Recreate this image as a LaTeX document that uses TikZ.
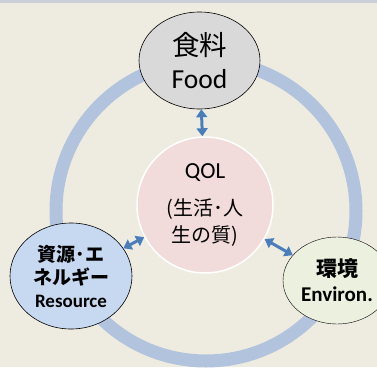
\documentclass[tikz,border=0pt]{standalone}
\usepackage{fontspec}
\setmainfont{Carlito}
\newfontfamily\jp{Noto Sans CJK JP}
\usetikzlibrary{arrows.meta,shapes.geometric}
\definecolor{bg}{HTML}{EEECE1}
\definecolor{topbar}{HTML}{C9D0D8}
\definecolor{ringc}{HTML}{B2C3DD}
\definecolor{foodc}{HTML}{D9D9D9}
\definecolor{qolc}{HTML}{F2DCDB}
\definecolor{resc}{HTML}{C6D9F1}
\definecolor{envc}{HTML}{EBF1DE}
\definecolor{arrc}{HTML}{4A7EBB}
\tikzset{
  oval/.style={ellipse, draw=black, line width=0.6pt, inner sep=0pt, align=center},
  biarrow/.style={arrc, line width=3pt, {Triangle[length=8pt,width=11pt]}-{Triangle[length=8pt,width=11pt]}}
}
\begin{document}
\begin{tikzpicture}[x=1pt,y=-1pt]
\useasboundingbox (0,0) rectangle (377,367);
\fill[bg] (0,0) rectangle (377,367);
\fill[topbar] (0,0) rectangle (377,3);
\draw[ringc, line width=13pt] (206,211) circle[radius=150pt];
\node[oval, fill=foodc, minimum width=121pt, minimum height=97pt, font=\fontsize{27.5}{33}\selectfont] (food) at (199.5,60.5)
  {{\jp 食料}\\Food};
\node[circle, fill=qolc, draw=white, line width=1.5pt, minimum size=136pt, inner sep=0pt, align=center, font=\fontsize{20}{27}\selectfont] (qol) at (205,205)
  {{\fontsize{23}{27}\selectfont QOL}\\[10pt]{\jp (生活･人}\\{\jp 生の質)}};
\node[oval, fill=resc, minimum width=122pt, minimum height=106pt, font=\fontsize{19}{23}\selectfont\bfseries] (res) at (71,276)
  {{\jp 資源･エ}\\{\jp ネルギー}\\Resource};
\node[oval, fill=envc, line width=0.4pt, minimum width=108pt, minimum height=87pt, font=\fontsize{21}{25}\selectfont\bfseries] (env) at (337,280.5)
  {{\jp 環境}\\Environ.};
\draw[biarrow] (food) -- (qol);
\draw[biarrow] (res) -- (qol);
\draw[biarrow] (qol) -- (env);
\end{tikzpicture}
\end{document}
